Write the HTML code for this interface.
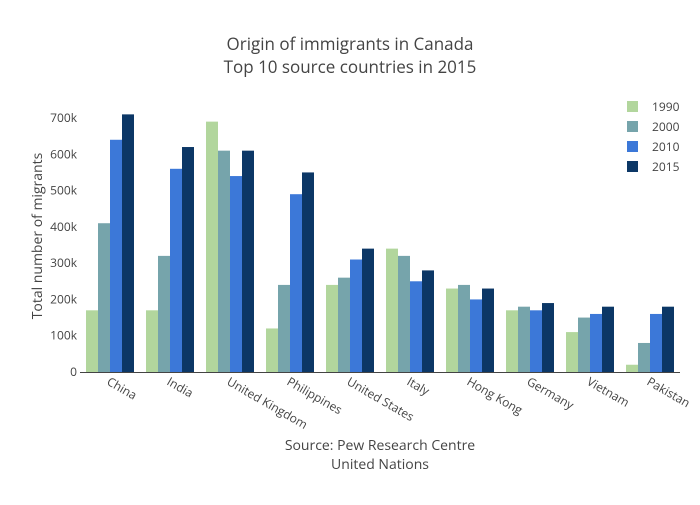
<!DOCTYPE html>
<html><head><meta charset="utf-8"><style>
body{margin:0;background:#fff;font-family:"Open Sans","Liberation Sans",sans-serif;}
svg text{font-family:"Open Sans","Liberation Sans",sans-serif;fill:#444;}
</style></head><body>
<svg id="chart" width="700" height="500">
<text x="350" y="50" text-anchor="middle" font-size="17">Origin of immigrants in Canada</text>
<text x="350" y="73" text-anchor="middle" font-size="17">Top 10 source countries in 2015</text>
<text x="380" y="450" text-anchor="middle" font-size="14">Source: Pew Research Centre</text>
<text x="380" y="469" text-anchor="middle" font-size="14">United Nations</text>
<text transform="translate(42,236) rotate(-90)" text-anchor="middle" font-size="14">Total number of migrants</text>
<g id="grid"></g><g id="bars"></g><g id="xt"></g><g id="legend"></g>
</svg>
<script>
const categories=["China","India","United Kingdom","Philippines","United States","Italy","Hong Kong","Germany","Vietnam","Pakistan"];
const seriesNames=["1990","2000","2010","2015"];
const s1990=[170,170,690,120,240,340,230,170,110,20];
const s2000=[410,320,610,240,260,320,240,180,150,80];
const s2010=[640,560,540,490,310,250,200,170,160,160];
const s2015=[710,620,610,550,340,280,230,190,180,180];
const yTicks=[0,100,200,300,400,500,600,700];
const yTickLabels=["0","100k","200k","300k","400k","500k","600k","700k"];
const colors=["#b2d69d","#76a4ab","#3c78d8","#0c3766"];
const series=[s1990,s2000,s2010,s2015];
const NS="http://www.w3.org/2000/svg";
const x0=80,x1=680,yb=372,yt=118,ymax=700;
const y=v=>yb-(v/ymax)*(yb-yt);
const step=(x1-x0)/categories.length, bw=step*0.8/4;
function mk(t,a,p){const e=document.createElementNS(NS,t);for(const k in a)e.setAttribute(k,a[k]);p.appendChild(e);return e;}
const grid=document.getElementById('grid');
yTicks.forEach((t,i)=>{
 const tx=mk('text',{x:x0-3,y:y(t)+4,'text-anchor':'end','font-size':12},grid);
 tx.textContent=yTickLabels[i];
 
 
});
const bars=document.getElementById('bars');
categories.forEach((c,i)=>{
 series.forEach((s,j)=>{
  const bx=x0+i*step+step*0.1+j*bw;
  const r=mk('rect',{x:bx,y:y(s[j===undefined?0:i]),width:bw,height:yb-y(s[i]),fill:colors[j]},bars);
  
  
 });
 const cx=x0+i*step+step/2;
 const t=mk('text',{transform:`translate(${cx-4},${yb+12}) rotate(30)`,'font-size':12},document.getElementById('xt'));
 t.textContent=c;
 
 
});
const ax=mk('line',{x1:x0,x2:x1,y1:yb+0.5,y2:yb+0.5,stroke:'#444','stroke-width':1},bars);


const lg=document.getElementById('legend');
seriesNames.forEach((n,j)=>{
 const yy=107+j*20;
 const r=mk('rect',{x:627,y:yy-6,width:11,height:11,fill:colors[j]},lg);
 
 
 const t=mk('text',{x:652,y:yy+4,'font-size':12},lg);
 t.textContent=n;
 
 
});
</script>
</body></html>
